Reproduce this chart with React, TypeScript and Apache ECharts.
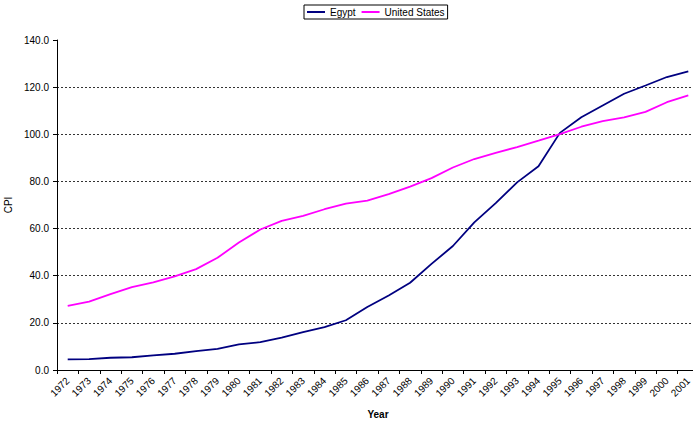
import React, { useEffect, useRef } from "react";
import * as echarts from "echarts";

const years = [
  "1972", "1973", "1974", "1975", "1976", "1977", "1978", "1979", "1980", "1981",
  "1982", "1983", "1984", "1985", "1986", "1987", "1988", "1989", "1990", "1991",
  "1992", "1993", "1994", "1995", "1996", "1997", "1998", "1999", "2000", "2001",
];

const egypt = [
  4.5, 4.6, 5.2, 5.4, 6.2, 6.9, 8.0, 9.0, 10.9, 11.8,
  13.7, 16.1, 18.2, 21.1, 26.7, 31.6, 37.0, 45.0, 52.6, 62.6,
  70.8, 79.6, 86.4, 100.6, 107.2, 112.2, 117.2, 120.7, 124.3, 126.7,
];

const unitedStates = [
  27.2, 29.0, 32.2, 35.2, 37.2, 39.7, 42.8, 47.6, 54.1, 59.6,
  63.3, 65.4, 68.2, 70.6, 71.9, 74.6, 77.8, 81.4, 85.9, 89.5,
  92.1, 94.6, 97.3, 100.1, 103.2, 105.6, 107.2, 109.5, 113.6, 116.5,
];

const seriesNames = ["Egypt", "United States"];
const yTicks = { min: 0, max: 140, interval: 20 };

const FONT = "'Liberation Sans', Arial, sans-serif";

export default function App() {
  const ref = useRef<HTMLDivElement>(null);
  useEffect(() => {
    if (!ref.current) return;
    const chart = echarts.init(ref.current, undefined, { renderer: "svg" });
    chart.setOption({
      animation: false,
      backgroundColor: "#ffffff",
      textStyle: { fontFamily: FONT, color: "#000" },
      legend: {
        data: seriesNames,
        left: 304,
        top: 5,
        orient: "horizontal",
        icon: "rect",
        itemWidth: 18,
        itemHeight: 2,
        itemGap: 6,
        padding: [2, 3, 2, 3],
        borderColor: "#000",
        borderWidth: 1,
        textStyle: { fontFamily: FONT, fontSize: 10, color: "#000" },
      },
      grid: {
        left: 57,
        top: 40,
        width: 642,
        height: 330,
        containLabel: false,
        outerBoundsMode: "none",
      },
      xAxis: {
        type: "category",
        data: years,
        boundaryGap: true,
        name: "Year",
        nameLocation: "middle",
        nameGap: 39,
        nameTextStyle: { fontFamily: FONT, fontSize: 10, fontWeight: "bold", color: "#000" },
        axisLine: { lineStyle: { color: "#000", width: 1 } },
        axisTick: { show: true, length: 4, alignWithLabel: false, lineStyle: { color: "#000" } },
        axisLabel: {
          interval: 0,
          rotate: 45,
          margin: 9,
          fontFamily: FONT,
          fontSize: 10,
          color: "#000",
        },
        splitLine: { show: false },
      },
      yAxis: {
        type: "value",
        min: yTicks.min,
        max: yTicks.max,
        interval: yTicks.interval,
        name: "CPI",
        nameLocation: "middle",
        nameGap: 31,
        nameRotate: 90,
        nameTextStyle: { fontFamily: FONT, fontSize: 10, fontWeight: "normal", color: "#000" },
        axisLine: { show: true, lineStyle: { color: "#000", width: 1 } },
        axisTick: { show: true, length: 4, lineStyle: { color: "#000" } },
        axisLabel: {
          margin: 8,
          fontFamily: FONT,
          fontSize: 10,
          color: "#000",
          formatter: (v: number) => v.toFixed(1),
        },
        splitLine: {
          show: true,
          showMaxLine: false,
          lineStyle: { color: "#333", type: [2, 2], width: 1 },
        },
      },
      series: [
        {
          name: seriesNames[0],
          type: "line",
          data: egypt,
          symbol: "none",
          color: "#000080",
          lineStyle: { color: "#000080", width: 1.8 },
        },
        {
          name: seriesNames[1],
          type: "line",
          data: unitedStates,
          symbol: "none",
          color: "#FF00FF",
          lineStyle: { color: "#FF00FF", width: 1.8 },
        },
      ],
    });
    return () => chart.dispose();
  }, []);
  return (
    <div
      ref={ref}
      style={{ position: "absolute", left: 0, top: 0, width: 693, height: 422, background: "#fff" }}
    />
  );
}
